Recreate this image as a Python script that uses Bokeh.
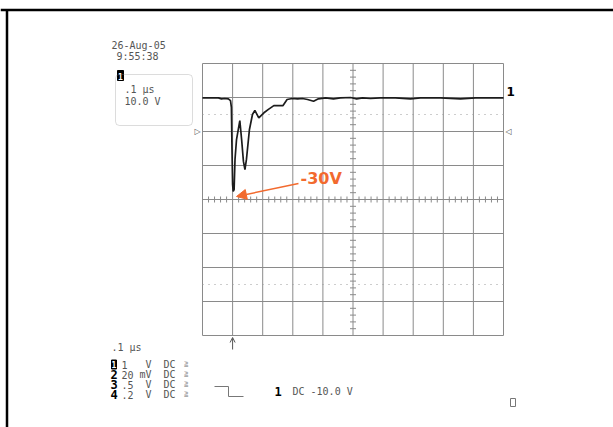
from bokeh.plotting import figure
from bokeh.models import Range1d, Arrow, NormalHead, OpenHead, BoxAnnotation
from bokeh.core.properties import value
from bokeh.embed import file_html
from bokeh.resources import INLINE

# ---------------- data ----------------
time_us = [0.000, 0.027, 0.053, 0.063, 0.073, 0.086, 0.093, 0.096, 0.098, 0.100,
           0.102, 0.105, 0.108, 0.113, 0.124, 0.130, 0.136, 0.141, 0.146, 0.156,
           0.166, 0.174, 0.187, 0.204, 0.219, 0.237, 0.252, 0.267, 0.281, 0.298,
           0.316, 0.332, 0.349, 0.369, 0.385, 0.409, 0.435, 0.458, 0.492, 0.512,
           0.532, 0.558, 0.591, 0.641, 0.691, 0.724, 0.791, 0.857, 0.907, 0.957, 1.000]
volts = [29.9, 29.9, 29.9, 29.6, 29.7, 29.6, 29.1, 27.1, 14.7, 4.4,
         2.4, 2.9, 11.8, 17.6, 23.2, 17.6, 11.2, 8.8, 11.8, 20.6,
         25.0, 26.2, 24.0, 25.5, 26.5, 27.6, 27.6, 27.6, 29.4, 29.7,
         29.6, 29.7, 29.4, 28.9, 29.6, 29.9, 29.6, 29.9, 30.0, 29.6,
         29.9, 29.7, 29.9, 29.9, 29.6, 29.9, 29.9, 29.6, 29.9, 29.9, 29.9]

x_div_ticks = [0.0, 0.1, 0.2, 0.3, 0.4, 0.5, 0.6, 0.7, 0.8, 0.9, 1.0]
y_div_ticks = [-40, -30, -20, -10, 0, 10, 20, 30, 40]
x_minor_ticks = [i * 0.02 for i in range(51) if i % 5 != 0]
y_minor_ticks = [v * 2 for v in range(-20, 21) if v % 5 != 0]
dotted_levels = [25, -25]
trigger_level = 20
trigger_time = 0.1
peak_label = "-30V"

date_text = "26-Aug-05"
time_text = "9:55:38"
timebase = ".1 µs"
ch1_scale = "10.0 V"
ch_nums = ["1", "2", "3", "4"]
ch_scales = ["1", "20", ".5", ".2"]
ch_units = ["V", "mV", "V", "V"]
ch_coupling = ["DC", "DC", "DC", "DC"]
trig_text = "DC -10.0 V"

# ---------------- geometry ----------------
W, H = 613, 427
GX0, GX1, GY0, GY1 = 202, 503, 63, 335
T0, T1, V0, V1 = 0.0, 1.0, -40.0, 40.0
sx = (GX1 - GX0) / (T1 - T0)
sy = (GY1 - GY0) / (V1 - V0)

def tx(px):
    return T0 + (px - GX0) / sx

def vy(py):
    return V1 - (py - GY0) / sy

p = figure(width=W, height=H, x_range=Range1d(tx(0), tx(W)),
           y_range=Range1d(vy(H), vy(0)),
           x_axis_location=None, y_axis_location=None,
           toolbar_location=None, output_backend="svg", min_border=0,
           outline_line_color=None, background_fill_color="white",
           border_fill_color="white")
p.grid.visible = False

GRID = "#8a8a8a"
TXT = "#555555"
MONO = value("DejaVu Sans Mono")
SANS = value("DejaVu Sans")

# page frame lines
p.segment(x0=[tx(0)], y0=[vy(9.5)], x1=[tx(W)], y1=[vy(9.5)], line_color="black", line_width=2.5)
p.segment(x0=[tx(6.5)], y0=[vy(9.5)], x1=[tx(6.5)], y1=[vy(H)], line_color="black", line_width=2.5)

# graticule
p.segment(x0=x_div_ticks, y0=[V0] * len(x_div_ticks), x1=x_div_ticks, y1=[V1] * len(x_div_ticks),
          line_color=GRID, line_width=1)
p.segment(x0=[T0] * len(y_div_ticks), y0=y_div_ticks, x1=[T1] * len(y_div_ticks), y1=y_div_ticks,
          line_color=GRID, line_width=1)
tick_v = 3 / sy
tick_t = 3 / sx
p.segment(x0=x_minor_ticks, y0=[-tick_v] * len(x_minor_ticks), x1=x_minor_ticks, y1=[tick_v] * len(x_minor_ticks),
          line_color=GRID, line_width=1)
p.segment(x0=[0.5 - tick_t] * len(y_minor_ticks), y0=y_minor_ticks, x1=[0.5 + tick_t] * len(y_minor_ticks),
          y1=y_minor_ticks, line_color=GRID, line_width=1)
p.segment(x0=[T0] * 2, y0=dotted_levels, x1=[T1] * 2, y1=dotted_levels,
          line_color="#9a9a9a", line_width=1, line_dash="1 5")

# trace
p.line(time_us, volts, line_color="#1c1c1c", line_width=1.7)

# trigger markers
p.text(x=[T0 - 5 / sx], y=[trigger_level], text=["▷"], text_font_size="8px", text_color=TXT,
       text_align="center", text_baseline="middle", text_font=SANS)
p.text(x=[T1 + 5 / sx], y=[trigger_level], text=["◁"], text_font_size="8px", text_color=TXT,
       text_align="center", text_baseline="middle", text_font=SANS)
p.add_layout(Arrow(end=OpenHead(size=5, line_color=TXT, line_width=1), x_start=trigger_time, y_start=vy(349),
                   x_end=trigger_time, y_end=vy(337), line_color=TXT, line_width=1))

# trace label on right
p.text(x=[T1 + 3 / sx], y=[vy(91)], text=["1"], text_font_size="12px", text_font_style="bold",
       text_color="black", text_baseline="middle", text_align="left", text_font=SANS)

# -30V annotation
ORANGE = "#f26a2e"
p.add_layout(Arrow(end=NormalHead(size=10, fill_color=ORANGE, line_color=ORANGE),
                   x_start=tx(298), y_start=vy(183), x_end=tx(236), y_end=vy(196),
                   line_color=ORANGE, line_width=1.5))
p.text(x=[tx(300)], y=[vy(178)], text=[peak_label], text_font_size="16px", text_font_style="bold",
       text_color=ORANGE, text_baseline="middle", text_align="left", text_font=SANS)

def mono(x, y, s, size="10px", color=TXT, bold=False, align="left"):
    p.text(x=[tx(x)], y=[vy(y)], text=[s], text_font_size=size, text_color=color,
           text_baseline="middle", text_align=align, text_font=MONO,
           text_font_style="bold" if bold else "normal")

# date/time
mono(111, 45, date_text)
mono(116, 56, time_text)

# channel box
p.add_layout(BoxAnnotation(left=tx(115), right=tx(192), top=vy(74), bottom=vy(125),
                           fill_alpha=0, line_color="#8a8a8a", line_width=1, border_radius=4))
p.quad(left=[tx(117)], right=[tx(123)], top=[vy(70)], bottom=[vy(80)], fill_color="black", line_color="black")
p.text(x=[tx(120)], y=[vy(75.5)], text=["1"], text_font_size="8px", text_color="white",
       text_baseline="middle", text_align="center", text_font=MONO, text_font_style="bold")
mono(124, 89, timebase)
mono(124, 101, ch1_scale)

# bottom info
mono(111, 347, timebase)
row_y = [364, 374, 384, 394]
for i in range(4):
    y = row_y[i]
    if i == 0:
        p.quad(left=[tx(111)], right=[tx(116)], top=[vy(y - 4.5)], bottom=[vy(y + 4.5)],
               fill_color="black", line_color="black")
        p.text(x=[tx(113.5)], y=[vy(y)], text=[ch_nums[i]], text_font_size="8px", text_color="white",
               text_baseline="middle", text_align="center", text_font=MONO, text_font_style="bold")
    else:
        mono(110, y, ch_nums[i], size="12px", color="black", bold=True)
    mono(121, y, ch_scales[i])
    mono(151, y, ch_units[i], align="right")
    mono(163, y, ch_coupling[i])
    p.text(x=[tx(185)], y=[vy(y)], text=["BW"], text_font_size="5px", text_color="#888888",
           text_baseline="middle", text_align="center", text_font=MONO, angle=1.5708)

# trigger slope symbol
p.line(x=[tx(214), tx(228), tx(228), tx(243)], y=[vy(386), vy(386), vy(396), vy(396)],
       line_color="#777777", line_width=1)
mono(274, 391, ch_nums[0], size="12px", color="black", bold=True)
mono(292, 391, trig_text)

# small square bottom right
p.quad(left=[tx(510)], right=[tx(515)], top=[vy(398)], bottom=[vy(406)], fill_alpha=0,
       line_color="#777777", line_width=1)

open("out.html", "w").write(file_html(p, INLINE))
